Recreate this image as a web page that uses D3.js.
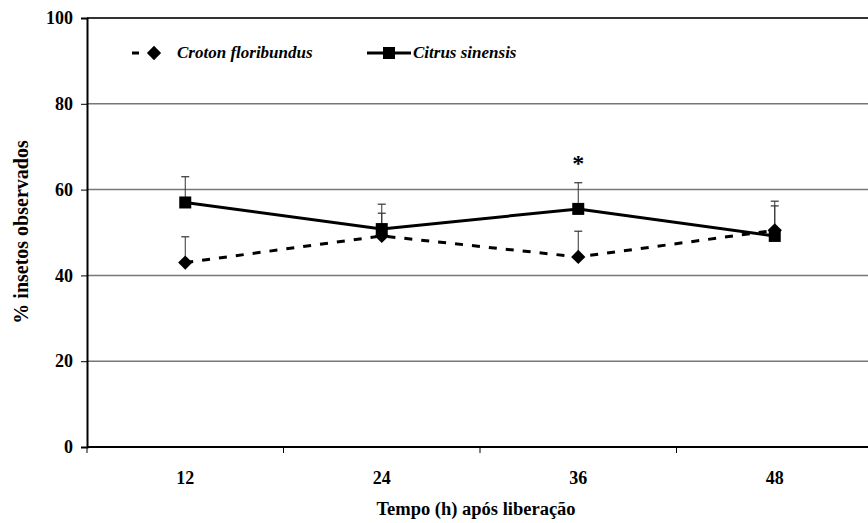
<!DOCTYPE html>
<html>
<head>
<meta charset="utf-8">
<script src="https://cdn.jsdelivr.net/npm/d3@7"></script>
<style>
  html, body { margin: 0; padding: 0; background: #fff; }
  svg { display: block; }
</style>
</head>
<body>
<svg id="chart" width="868" height="523"></svg>
<script>
// Sampling times (h) after release
const times = ["12", "24", "36", "48"];

// Percentage of insects observed on each plant
const croton = [43.0, 49.2, 44.3, 50.5];
const crotonErr = [6.0, 5.3, 6.0, 6.8];
const citrus = [57.0, 50.8, 55.5, 49.2];
const citrusErr = [6.0, 5.8, 6.1, 7.0];

// Times with a significant difference
const significant = ["36"];

const yTicks = [0, 20, 40, 60, 80, 100];

const serif = "'Liberation Serif', 'Times New Roman', 'DejaVu Serif', serif";
const svg = d3.select("#chart");
const plotLeft = 87, plotBottom = 447, plotTop = 18, step = 196.5;

const x = d3.scaleBand().domain(times).range([plotLeft, plotLeft + step * times.length]).padding(0);
const y = d3.scaleLinear().domain([0, 100]).range([plotBottom, plotTop]);
const cx = d => x(d) + x.bandwidth() / 2;

function label(sel, size, italic) {
  return sel.style("font-family", serif).style("font-weight", "bold")
    .style("font-size", size + "px").style("font-style", italic ? "italic" : "normal")
    .attr("fill", "#000");
}

// Horizontal gridlines
svg.append("g").selectAll("line").data(yTicks.filter(v => v > 0)).join("line")
  .attr("x1", plotLeft).attr("x2", 868)
  .attr("y1", d => y(d)).attr("y2", d => y(d))
  .attr("stroke", d => d === 100 ? "#333" : "#777")
  .attr("stroke-width", d => d === 100 ? 2 : 1.5);

// Y axis
const yAxis = svg.append("g").attr("transform", `translate(${plotLeft},0)`)
  .call(d3.axisLeft(y).tickValues(yTicks).tickSize(6).tickPadding(8));
yAxis.attr("font-family", null);
yAxis.select(".domain").attr("stroke", "#000").attr("stroke-width", 2);
yAxis.selectAll(".tick line").attr("stroke", "#000").attr("stroke-width", 1);
label(yAxis.selectAll("text"), 18);

// X axis: ticks sit on the category boundaries
const xAxis = svg.append("g").attr("transform", `translate(0,${plotBottom})`);
xAxis.append("line").attr("x1", plotLeft).attr("x2", 868).attr("y1", 0).attr("y2", 0)
  .attr("stroke", "#000").attr("stroke-width", 2);
xAxis.selectAll(".xt").data(times).join("line").attr("class", "xt")
  .attr("x1", d => x(d)).attr("x2", d => x(d)).attr("y1", 0).attr("y2", 6)
  .attr("stroke", "#000").attr("stroke-width", 1);
label(xAxis.selectAll(".xl").data(times).join("text").attr("class", "xl")
  .attr("x", d => cx(d)).attr("y", 37).attr("text-anchor", "middle").text(d => d), 18);

// Axis titles
label(svg.append("text").attr("x", 476).attr("y", 515).attr("text-anchor", "middle")
  .text("Tempo (h) após liberação"), 18.5);
label(svg.append("text").attr("transform", "translate(28,232) rotate(-90)")
  .attr("text-anchor", "middle").text("% insetos observados"), 20);

// Error bars (upper half only)
function errorBars(vals, errs) {
  const g = svg.append("g");
  times.forEach((t, i) => {
    const x0 = cx(t), yv = y(vals[i]), ye = y(vals[i] + errs[i]);
    g.append("line").attr("x1", x0).attr("x2", x0).attr("y1", yv).attr("y2", ye)
      .attr("stroke", "#333").attr("stroke-width", 1);
    g.append("line").attr("x1", x0 - 4).attr("x2", x0 + 4).attr("y1", ye).attr("y2", ye)
      .attr("stroke", "#333").attr("stroke-width", 1.2);
  });
}
errorBars(croton, crotonErr);
errorBars(citrus, citrusErr);

const line = d3.line().x((d, i) => cx(times[i])).y(d => y(d));

// Croton floribundus: dashed line with diamonds
svg.append("path").datum(croton).attr("d", line)
  .attr("fill", "none").attr("stroke", "#000").attr("stroke-width", 3)
  .attr("stroke-dasharray", "8,9");
const diamond = d3.symbol().type(d3.symbolDiamond2).size(130);
svg.append("g").selectAll("path").data(croton).join("path")
  .attr("d", diamond)
  .attr("transform", (d, i) => `translate(${cx(times[i])},${y(d)})`)
  .attr("fill", "#000");

// Citrus sinensis: solid line with squares
svg.append("path").datum(citrus).attr("d", line)
  .attr("fill", "none").attr("stroke", "#000").attr("stroke-width", 3);
svg.append("g").selectAll("rect").data(citrus).join("rect")
  .attr("x", (d, i) => cx(times[i]) - 6).attr("y", d => y(d) - 6)
  .attr("width", 12).attr("height", 12).attr("fill", "#000");

// Significance marks
label(svg.append("g").selectAll("text").data(significant).join("text")
  .attr("x", d => cx(d)).attr("y", d => {
    const i = times.indexOf(d);
    return y(Math.max(citrus[i] + citrusErr[i], croton[i] + crotonErr[i])) - 12;
  })
  .attr("text-anchor", "middle").text("*"), 24);

// Legend
const lg = svg.append("g").attr("transform", "translate(0,53)");
lg.append("line").attr("x1", 132).attr("x2", 139).attr("y1", 0).attr("y2", 0)
  .attr("stroke", "#000").attr("stroke-width", 3);
lg.append("path").attr("d", diamond).attr("transform", "translate(154,0)").attr("fill", "#000");
label(lg.append("text").attr("x", 177).attr("y", 5).text("Croton floribundus"), 17, true);
lg.append("line").attr("x1", 367).attr("x2", 411).attr("y1", 0).attr("y2", 0)
  .attr("stroke", "#000").attr("stroke-width", 3);
lg.append("rect").attr("x", 383).attr("y", -6).attr("width", 12).attr("height", 12).attr("fill", "#000");
label(lg.append("text").attr("x", 413).attr("y", 5).text("Citrus sinensis"), 17, true);
</script>
</body>
</html>
